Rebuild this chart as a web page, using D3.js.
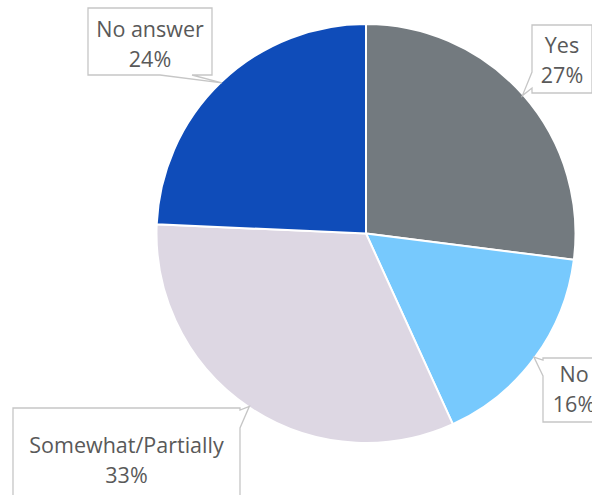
<!DOCTYPE html>
<html>
<head>
<meta charset="utf-8">
<script src="https://cdn.jsdelivr.net/npm/d3@7"></script>
<style>
  html, body { margin: 0; padding: 0; background: #fff; }
  svg { display: block; }
</style>
</head>
<body>
<div id="chart"></div>
<script>
// slice data, clockwise from 12 o'clock (sizes as drawn, labels as printed)
var categories = ['Yes', 'No', 'Somewhat/Partially', 'No answer'],
  values = [27.0, 16.2, 32.5, 24.3],
  percentLabels = ['27%', '16%', '33%', '24%'],
  colors = ['#737a7f', '#77c9fd', '#ddd7e3', '#0f4cb9'];

// callout boxes (x, y, w, h), where the wedge meets the box, first baseline
var boxes = [
  { x: 532, y: 25, w: 60, h: 68, side: 'left', a: 72, b: 88, base: 53 },
  { x: 543, y: 358, w: 62, h: 64, side: 'left', a: 360, b: 376, base: 382 },
  { x: 13, y: 408, w: 227, h: 100, side: 'right', a: 410, b: 428, base: 453 },
  { x: 88, y: 8, w: 124, h: 67, side: 'bottom', a: 160, b: 192, base: 37 }
];

var width = 592,
  height = 495,
  cx = 366,
  cy = 233.5,
  radius = 209.5,
  lineGap = 30;

var svg = d3.select('#chart')
  .append('svg')
  .attr('width', width)
  .attr('height', height);

var pie = d3.pie().sort(null).value(function(d) { return d; });
var arc = d3.arc().innerRadius(0).outerRadius(radius);
var arcs = pie(values);

var g = svg.append('g')
  .attr('transform', 'translate(' + cx + ',' + cy + ')');

g.selectAll('path')
  .data(arcs)
  .enter()
  .append('path')
  .attr('d', arc)
  .style('fill', function(d, i) { return colors[i]; })
  .style('stroke', '#fff')
  .style('stroke-width', 2);

// callouts
var callouts = svg.append('g');

arcs.forEach(function(d, i) {
  var mid = (d.startAngle + d.endAngle) / 2,
    tx = cx + Math.sin(mid) * (radius - 1),
    ty = cy - Math.cos(mid) * (radius - 1),
    b = boxes[i],
    x0 = b.x, y0 = b.y, x1 = b.x + b.w, y1 = b.y + b.h,
    p = d3.path();

  p.moveTo(x0, y0);
  p.lineTo(x1, y0);
  if (b.side === 'right') {
    p.lineTo(x1, b.a); p.lineTo(tx, ty); p.lineTo(x1, b.b);
  }
  p.lineTo(x1, y1);
  if (b.side === 'bottom') {
    p.lineTo(b.b, y1); p.lineTo(tx, ty); p.lineTo(b.a, y1);
  }
  p.lineTo(x0, y1);
  if (b.side === 'left') {
    p.lineTo(x0, b.b); p.lineTo(tx, ty); p.lineTo(x0, b.a);
  }
  p.closePath();

  callouts.append('path')
    .attr('d', p.toString())
    .style('fill', '#fff')
    .style('stroke', '#c6c6c6')
    .style('stroke-width', 1.3);

  var lines = [categories[i], percentLabels[i]],
    mx = x0 + b.w / 2;

  var text = callouts.append('text')
    .attr('text-anchor', 'middle')
    .style('font-family', '"Open Sans", sans-serif')
    .style('font-size', '21.5px')
    .style('fill', '#595959');

  text.selectAll('tspan')
    .data(lines)
    .enter()
    .append('tspan')
    .attr('x', mx)
    .attr('y', function(l, j) { return b.base + j * lineGap; })
    .text(function(l) { return l; });
});
</script>
</body>
</html>
